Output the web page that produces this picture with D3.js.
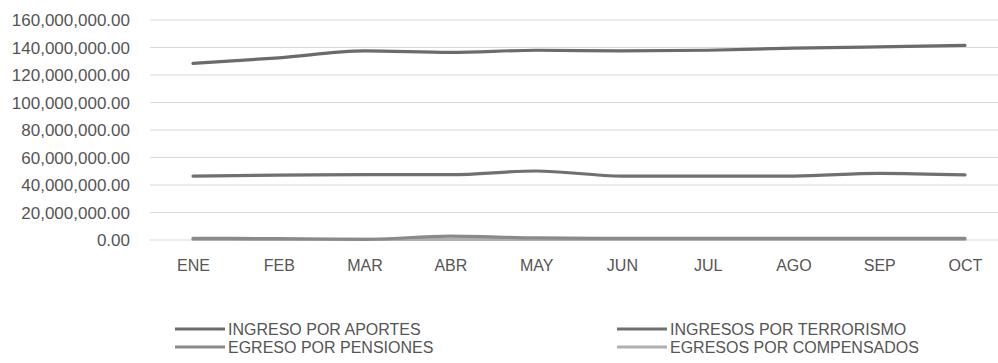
<!DOCTYPE html>
<html>
<head>
<meta charset="utf-8">
<script src="https://cdn.jsdelivr.net/npm/d3@7"></script>
<style>
  html, body { margin: 0; padding: 0; background: #fff; }
  svg { display: block; }
  text { font-family: "Liberation Sans Narrow", "Liberation Sans", Arial, sans-serif; fill: #555; }
</style>
</head>
<body>
<svg id="chart" width="998" height="363"></svg>
<script>
const months = ["ENE","FEB","MAR","ABR","MAY","JUN","JUL","AGO","SEP","OCT"];
const yTicks = [0, 20000000, 40000000, 60000000, 80000000, 100000000, 120000000, 140000000, 160000000];
const seriesNames = ["INGRESO POR APORTES","INGRESOS POR TERRORISMO","EGRESO POR PENSIONES","EGRESOS POR COMPENSADOS"];
const aportes     = [128500000,132500000,137500000,136500000,138000000,137500000,138000000,139500000,140500000,141500000];
const terrorismo  = [46500000,47200000,47500000,47500000,50200000,46500000,46500000,46500000,48500000,47300000];
const pensiones   = [1200000,1000000,500000,2800000,1500000,1200000,1200000,1200000,1200000,1200000];
const compensados = [400000,400000,400000,400000,400000,400000,400000,400000,400000,400000];
const seriesColors = ["#6b6b6b","#707070","#8a8a8a","#b0b0b0"];

const allSeries = [aportes, terrorismo, pensiones, compensados];

const svg = d3.select("#chart");
const x = d3.scalePoint().domain(months).range([193, 965]);
const y = d3.scaleLinear().domain([0, 160000000]).range([240, 20]);

// gridlines
svg.append("g").selectAll("line").data(yTicks).join("line")
  .attr("x1", 150).attr("x2", 1008)
  .attr("y1", d => y(d)).attr("y2", d => y(d))
  .attr("stroke", "#d9d9d9").attr("stroke-width", 1.2);

// y axis
const fmt = d3.format(",.2f");
const yAxis = d3.axisLeft(y).tickValues(yTicks).tickFormat(fmt).tickSize(0).tickPadding(0);
const yg = svg.append("g").attr("transform", "translate(130,0)").call(yAxis);
yg.select(".domain").remove();
yg.selectAll("text").style("font-size", "17px").attr("fill", "#555").attr("dy", "0.35em");

// x axis
const xAxis = d3.axisBottom(x).tickSize(0).tickPadding(0);
const xg = svg.append("g").attr("transform", "translate(0,260)").call(xAxis);
xg.select(".domain").remove();
xg.selectAll("text").style("font-size", "16px").attr("fill", "#555").attr("dy", "0.7em");

// lines
const line = d3.line().x((d, i) => x(months[i])).y(d => y(d)).curve(d3.curveMonotoneX);
svg.append("g").selectAll("path").data(allSeries.slice().reverse()).join("path")
  .attr("d", d => line(d))
  .attr("fill", "none")
  .attr("stroke", (d, i) => seriesColors[3 - i])
  .attr("stroke-width", 3.2)
  .attr("stroke-linecap", "round");

// legend
const legendPos = [[175, 329], [617, 329], [175, 347], [617, 347]];
const lg = svg.append("g").selectAll("g").data(seriesNames).join("g")
  .attr("transform", (d, i) => `translate(${legendPos[i][0]},${legendPos[i][1]})`);
lg.append("line").attr("x1", 0).attr("x2", 50).attr("y1", 0).attr("y2", 0)
  .attr("stroke", (d, i) => seriesColors[i]).attr("stroke-width", 3.2);
lg.append("text").attr("x", 53).attr("y", 0).attr("dy", "0.35em")
  .style("font-size", "16px").attr("fill", "#555").text(d => d);
</script>
</body>
</html>
